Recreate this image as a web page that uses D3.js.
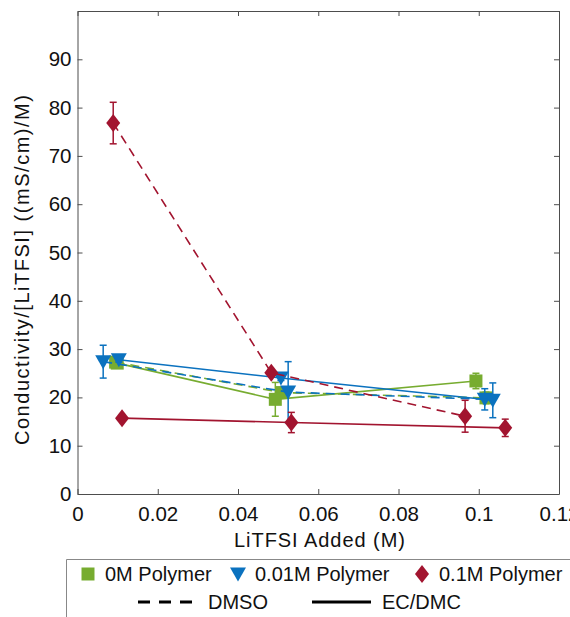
<!DOCTYPE html>
<html>
<head>
<meta charset="utf-8">
<script src="https://cdn.jsdelivr.net/npm/d3@7"></script>
<style>
  body { margin: 0; background: #fff; }
  text { font-family: "Liberation Sans", Arial, sans-serif; fill: #111; }
</style>
</head>
<body>
<script>
var w = 570;
var h = 617;

// x ticks / y ticks
var xTicks = [0, 0.02, 0.04, 0.06, 0.08, 0.1, 0.12];
var xTickLabels = ["0", "0.02", "0.04", "0.06", "0.08", "0.1", "0.12"];
var yTicks = [0, 10, 20, 30, 40, 50, 60, 70, 80, 90];

// series values: [LiTFSI (M), conductivity/[LiTFSI], error]
var dmso0 = [[0.0095, 27.3, 0.8], [0.0510, 21.0, 1.0], [0.1018, 19.9, 1.2]];
var ecdmc0 = [[0.0099, 27.1, 0.8], [0.0493, 19.6, 3.5], [0.0993, 23.4, 1.6]];
var dmso001 = [[0.0064, 27.4, 3.4], [0.0525, 21.1, 6.3], [0.1015, 19.6, 2.2]];
var ecdmc001 = [[0.0103, 27.8, 0.5], [0.0507, 24.0, 0.5], [0.1035, 19.4, 3.6]];
var dmso01 = [[0.0089, 76.8, 4.3], [0.0483, 25.1, 0.6], [0.0966, 16.1, 3.3]];
var ecdmc01 = [[0.0111, 15.7, 0.5], [0.0533, 14.8, 2.1], [0.1066, 13.7, 1.8]];

var legendPolymers = ["0M Polymer", "0.01M Polymer", "0.1M Polymer"];
var legendSolvents = ["DMSO", "EC/DMC"];

var green = "#77ac30";
var blue = "#0b72bf";
var red = "#a2142f";

var series = [
  { data: dmso0, color: green, marker: "square", dash: true },
  { data: ecdmc0, color: green, marker: "square", dash: false },
  { data: dmso001, color: blue, marker: "triangle", dash: true },
  { data: ecdmc001, color: blue, marker: "triangle", dash: false },
  { data: dmso01, color: red, marker: "diamond", dash: true },
  { data: ecdmc01, color: red, marker: "diamond", dash: false }
];

var svg = d3.select("body").append("svg")
  .attr("width", w)
  .attr("height", h);

var mLeft = 77.5, mRight = 559, mTop = 11, mBottom = 494;

var xScale = d3.scaleLinear().domain([0, 0.12]).range([mLeft, mRight]);
var yScale = d3.scaleLinear().domain([0, 100]).range([mBottom, mTop]);

var axisColor = "#4d4d4d";

// bottom axis, ticks pointing in
svg.append("g")
  .attr("transform", "translate(0," + mBottom + ")")
  .call(d3.axisBottom(xScale).tickValues(xTicks)
    .tickFormat(function(d, i) { return xTickLabels[i]; })
    .tickSizeInner(-5).tickSizeOuter(0).tickPadding(12));
// top axis, no labels
svg.append("g")
  .attr("transform", "translate(0," + mTop + ")")
  .call(d3.axisTop(xScale).tickValues(xTicks).tickFormat("")
    .tickSizeInner(-5).tickSizeOuter(0));
svg.append("g")
  .attr("transform", "translate(" + mLeft + ",0)")
  .call(d3.axisLeft(yScale).tickValues(yTicks)
    .tickSizeInner(-5).tickSizeOuter(0).tickPadding(6));
svg.append("g")
  .attr("transform", "translate(" + mRight + ",0)")
  .call(d3.axisRight(yScale).tickValues(yTicks).tickFormat("")
    .tickSizeInner(-5).tickSizeOuter(0));

svg.selectAll(".domain").attr("stroke", axisColor).attr("stroke-width", 1);
svg.selectAll(".tick line").attr("stroke", axisColor).attr("stroke-width", 1);
svg.selectAll(".tick text")
  .style("font-family", "'Liberation Sans', Arial, sans-serif")
  .style("font-size", "20.5px")
  .attr("fill", "#111");

// axis titles
svg.append("text")
  .attr("x", 319.5)
  .attr("y", 547)
  .attr("text-anchor", "middle")
  .attr("textLength", 171)
  .attr("lengthAdjust", "spacing")
  .style("font-size", "20px")
  .text("LiTFSI Added (M)");

svg.append("text")
  .attr("transform", "translate(29,270) rotate(-90)")
  .attr("text-anchor", "middle")
  .attr("textLength", 350)
  .attr("lengthAdjust", "spacing")
  .style("font-size", "20px")
  .text("Conductivity/[LiTFSI] ((mS/cm)/M)");

// marker shapes
function markerPath(type) {
  if (type == "square") return "M-6.5,-6.5H6.5V6.5H-6.5Z";
  if (type == "triangle") return "M-8,-6.5H8L0,7.5Z";
  return "M0,-9L7,0L0,9L-7,0Z";
}

var line = d3.line()
  .x(function(d) { return xScale(d[0]); })
  .y(function(d) { return yScale(d[1]); });

var plot = svg.append("g");

series.forEach(function(s) {
  var g = plot.append("g");

  g.append("path")
    .datum(s.data)
    .attr("d", line)
    .attr("fill", "none")
    .attr("stroke", s.color)
    .attr("stroke-width", 1.6)
    .attr("stroke-dasharray", s.dash ? "9,6" : null);

  // error bars
  var eb = g.selectAll(".eb")
    .data(s.data)
    .enter().append("g");
  eb.append("line")
    .attr("x1", function(d) { return xScale(d[0]); })
    .attr("x2", function(d) { return xScale(d[0]); })
    .attr("y1", function(d) { return yScale(d[1] - d[2]); })
    .attr("y2", function(d) { return yScale(d[1] + d[2]); })
    .attr("stroke", s.color).attr("stroke-width", 1.5);
  [1, -1].forEach(function(sign) {
    eb.append("line")
      .attr("x1", function(d) { return xScale(d[0]) - 3.5; })
      .attr("x2", function(d) { return xScale(d[0]) + 3.5; })
      .attr("y1", function(d) { return yScale(d[1] + sign * d[2]); })
      .attr("y2", function(d) { return yScale(d[1] + sign * d[2]); })
      .attr("stroke", s.color).attr("stroke-width", 1.5);
  });

  g.selectAll(".mk")
    .data(s.data)
    .enter().append("path")
    .attr("d", markerPath(s.marker))
    .attr("transform", function(d) {
      return "translate(" + xScale(d[0]) + "," + yScale(d[1]) + ")";
    })
    .attr("fill", s.color);
});

// legend
var lg = svg.append("g");
lg.append("path")
  .attr("d", "M66.5,617V559.5H575")
  .attr("fill", "none")
  .attr("stroke", "#888")
  .attr("stroke-width", 1);

var polyMarkers = ["square", "triangle", "diamond"];
var polyColors = [green, blue, red];
var polyX = [88, 238, 422];

legendPolymers.forEach(function(name, i) {
  lg.append("path")
    .attr("d", markerPath(polyMarkers[i]))
    .attr("transform", "translate(" + polyX[i] + ",574)")
    .attr("fill", polyColors[i]);
  lg.append("text")
    .attr("x", polyX[i] + 17)
    .attr("y", 581)
    .style("font-size", "20px")
    .text(name);
});

var solvX = [138, 312];
legendSolvents.forEach(function(name, i) {
  lg.append("line")
    .attr("x1", solvX[i]).attr("x2", solvX[i] + 59)
    .attr("y1", 602).attr("y2", 602)
    .attr("stroke", "#000")
    .attr("stroke-width", 3)
    .attr("stroke-dasharray", i == 0 ? "12,9" : null);
  lg.append("text")
    .attr("x", solvX[i] + 70)
    .attr("y", 609)
    .style("font-size", "20px")
    .text(name);
});
</script>
</body>
</html>
